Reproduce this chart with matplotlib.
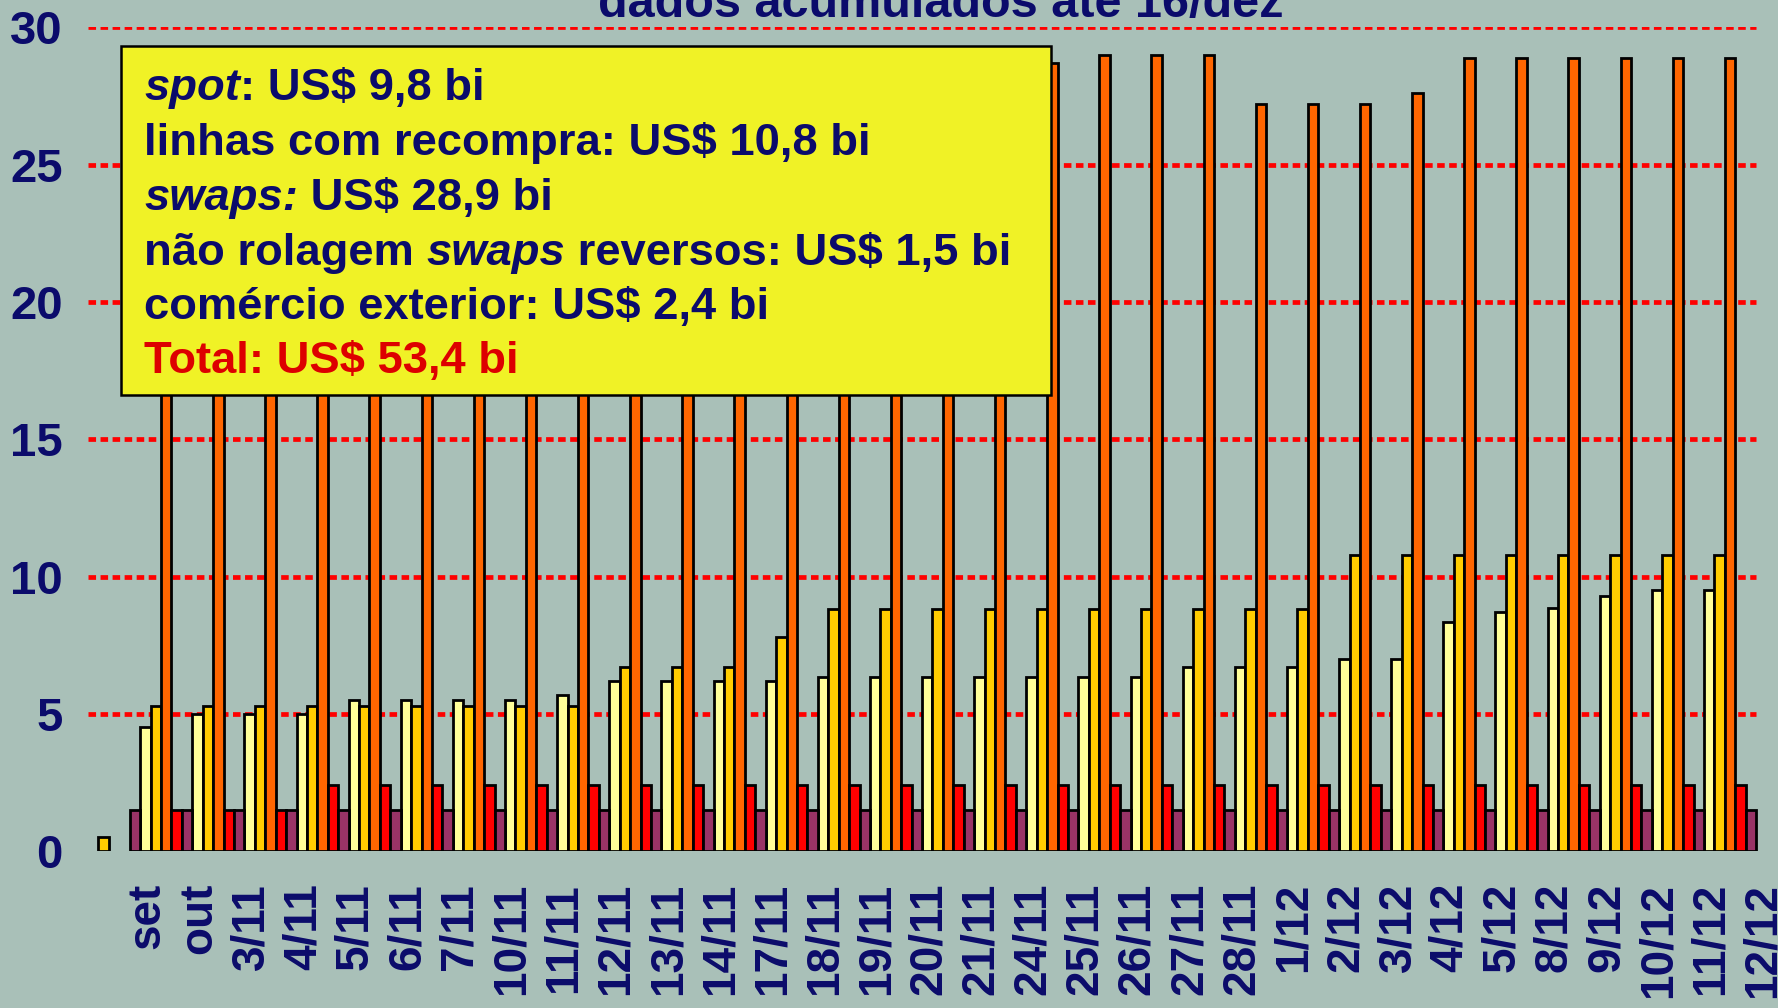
import numpy as np
import matplotlib.pyplot as plt
from matplotlib.patches import Rectangle

plt.rcParams['font.family'] = ['Liberation Sans', 'DejaVu Sans']
plt.rcParams['font.weight'] = 'bold'

# rótulos do eixo x (um grupo de 5 barras por data)
categorias = ['set', 'out', '3/11', '4/11', '5/11', '6/11', '7/11', '10/11', '11/11',
              '12/11', '13/11', '14/11', '17/11', '18/11', '19/11', '20/11', '21/11',
              '24/11', '25/11', '26/11', '27/11', '28/11', '1/12', '2/12', '3/12',
              '4/12', '5/12', '8/12', '9/12', '10/12', '11/12', '12/12']

# valores acumulados, US$ bi
spot = [0, 4.5, 5.0, 5.0, 5.0, 5.5, 5.5, 5.5, 5.5, 5.7, 6.2, 6.2, 6.2, 6.2, 6.35, 6.35,
        6.35, 6.35, 6.35, 6.35, 6.35, 6.7, 6.7, 6.7, 7.0, 7.0, 8.35, 8.7, 8.85, 9.3, 9.5, 9.5]
linhas = [0.5, 5.3, 5.3, 5.3, 5.3, 5.3, 5.3, 5.3, 5.3, 5.3, 6.7, 6.7, 6.7, 7.8, 8.8, 8.8,
          8.8, 8.8, 8.8, 8.8, 8.8, 8.8, 8.8, 8.8, 10.8, 10.8, 10.8, 10.8, 10.8, 10.8, 10.8, 10.8]
swaps = [0, 20.0, 21.0, 21.8, 22.4, 23.0, 23.5, 24.0, 24.5, 25.0, 25.6, 26.2, 26.8, 27.3,
         27.8, 28.1, 28.4, 28.6, 28.7, 29.0, 29.0, 29.0, 27.2, 27.2, 27.2, 27.6, 28.9, 28.9,
         28.9, 28.9, 28.9, 28.9]
comercio = [0, 1.5, 1.5, 1.5] + [2.4] * 28
rolagem = [1.5] * 32

series = [spot, linhas, swaps, comercio, rolagem]
cores = ['#ffff99', '#ffcc00', '#ff6600', '#ff0000', '#993366']

azul = '#0b0b6b'
fundo = '#a9c0b8'

fig = plt.figure(figsize=(17.78, 10.08), dpi=100, facecolor=fundo)
ax = fig.add_axes([0.04949, 0.15575, 0.95287, 0.81697])
ax.set_facecolor('none')

x = np.arange(len(categorias))
larg = 0.2
for k in range(5):
    vals = np.array(series[k])
    lw = [2.0 if v > 0 else 0 for v in vals]
    ax.bar(x + (k - 2) * larg, vals, width=larg, color=cores[k],
           edgecolor='black', linewidth=lw, zorder=3)

# linhas de grade vermelhas tracejadas
for yv in range(5, 31, 5):
    ax.hlines(yv, -0.5, len(categorias) - 0.5, colors='#ff0000', linewidth=3.4,
              linestyles=(0, (1.6, 0.95)), zorder=1)

ax.set_xlim(-0.5, len(categorias))
ax.set_ylim(0, 30)
ax.set_yticks(range(0, 31, 5))
ax.set_yticklabels([str(v) for v in range(0, 31, 5)], fontsize=34, color=azul, fontweight='bold')
ax.set_xticks(x + 0.63)
ax.set_xticklabels(categorias, rotation=90, fontsize=33, color=azul, fontweight='bold')
ax.tick_params(axis='y', length=0, pad=18)
ax.tick_params(axis='x', length=0, pad=23)
for s in ax.spines.values():
    s.set_visible(False)

# título (cortado no topo)
fig.text(0.529, 1 - 16.7 / 1008, 'dados acumulados até 16/dez', ha='center', va='baseline',
         fontsize=35, color=azul, fontweight='bold')

# caixa amarela com totais
W, H = 1778, 1008
caixa = Rectangle((121 / W, 1 - 395 / H), (1051 - 121) / W, (395 - 46) / H,
                  transform=fig.transFigure, facecolor='#f0f226', edgecolor='black',
                  linewidth=1.8, zorder=10)
fig.add_artist(caixa)

linhas_caixa = [
    [('spot', 'italic'), (': US$ 9,8 bi', 'normal')],
    [('linhas com recompra: US$ 10,8 bi', 'normal')],
    [('swaps:', 'italic'), (' US$ 28,9 bi', 'normal')],
    [('não rolagem ', 'normal'), ('swaps', 'italic'), (' reversos: US$ 1,5 bi', 'normal')],
    [('comércio exterior: US$ 2,4 bi', 'normal')],
    [('Total: US$ 53,4 bi', 'normal')],
]
cores_texto = [azul] * 5 + ['#dd0000']
baselines = [100, 155, 210, 264.5, 319, 373.5]
tam = 32.65

renderer = fig.canvas.get_renderer()


def largura(txt, estilo):
    t = fig.text(0, 0, txt + '|', fontsize=tam, fontweight='bold', fontstyle=estilo)
    w1 = t.get_window_extent(renderer).width
    t.remove()
    t = fig.text(0, 0, '|', fontsize=tam, fontweight='bold', fontstyle=estilo)
    w2 = t.get_window_extent(renderer).width
    t.remove()
    return w1 - w2


for partes, cor, yb in zip(linhas_caixa, cores_texto, baselines):
    xpix = 144
    for txt, estilo in partes:
        fig.text(xpix / W, 1 - yb / H, txt, fontsize=tam, fontweight='bold',
                 fontstyle=estilo, color=cor, va='baseline', ha='left', zorder=11)
        xpix += largura(txt, estilo)

fig.savefig('out.png', dpi=100, facecolor=fundo)
